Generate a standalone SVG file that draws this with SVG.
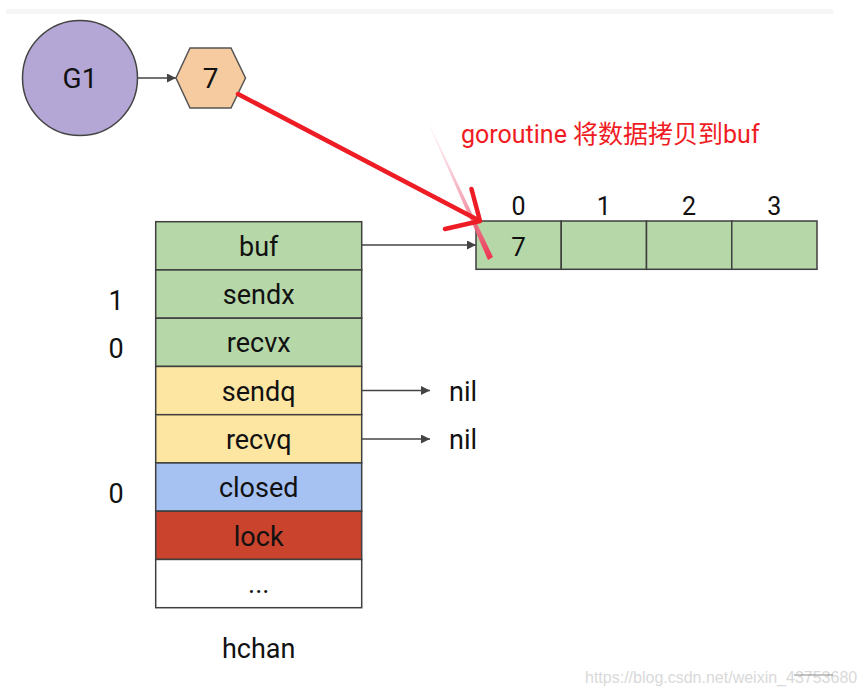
<svg xmlns="http://www.w3.org/2000/svg" width="866" height="694" viewBox="0 0 866 694">
<defs>
<style>
.t{font-family:Roboto,"Liberation Sans",Arial,sans-serif;fill:#111;}
.c{text-anchor:middle;}
.cell{stroke:#3f3f3f;stroke-width:1.5;}
.g{fill:#b6d7a8;}
.y{fill:#fde6a2;}
.b{fill:#a5c2f2;}
.r{fill:#c9432d;}
.w{fill:#fff;}
.conn{stroke:#444;stroke-width:1.3;fill:none;}
.f{font-size:27px;}
</style>
<marker id="ah" viewBox="0 0 10 10" refX="10" refY="5" markerWidth="11" markerHeight="9" markerUnits="userSpaceOnUse" orient="auto">
<path d="M0,0 L10,5 L0,10 z" fill="#444"/>
</marker>
<linearGradient id="pink" x1="428" y1="123" x2="490" y2="259" gradientUnits="userSpaceOnUse">
<stop offset="0" stop-color="#f7b7c4" stop-opacity="0.1"/>
<stop offset="0.6" stop-color="#f08aa0" stop-opacity="0.8"/>
<stop offset="1" stop-color="#ee3350"/>
</linearGradient>
</defs>
<rect width="866" height="694" fill="#fff"/>
<rect x="6" y="9" width="827" height="5" fill="#f6f6f6"/>

<g id="G1">
<circle cx="80" cy="78" r="57.5" fill="#b4a7d6" stroke="#444" stroke-width="1.5"/>
<text class="t c" x="80" y="88" font-size="28">G1</text>
</g>
<g id="value7">
<polygon points="176,78 190,48 231,48 245.5,78 231,108 190,108" fill="#f6cba0" stroke="#555" stroke-width="1.5"/>
<text class="t c" x="210.5" y="88" font-size="28">7</text>
</g>

<g id="hchan">
<rect class="cell g" x="155.7" y="221.7" width="206" height="48.25"/>
<text class="t c f" x="258.7" y="256">buf</text>
<rect class="cell g" x="155.7" y="269.95" width="206" height="48.25"/>
<text class="t c f" x="258.7" y="304">sendx</text>
<rect class="cell g" x="155.7" y="318.2" width="206" height="48.25"/>
<text class="t c f" x="258.7" y="352">recvx</text>
<rect class="cell y" x="155.7" y="366.45" width="206" height="48.25"/>
<text class="t c f" x="258.7" y="400.5">sendq</text>
<rect class="cell y" x="155.7" y="414.7" width="206" height="48.25"/>
<text class="t c f" x="258.7" y="449">recvq</text>
<rect class="cell b" x="155.7" y="462.95" width="206" height="48.25"/>
<text class="t c f" x="258.7" y="497">closed</text>
<rect class="cell r" x="155.7" y="511.2" width="206" height="48.25"/>
<text class="t c f" x="258.7" y="545.5">lock</text>
<rect class="cell w" x="155.7" y="559.45" width="206" height="48.25"/>
<text class="t c f" x="258.7" y="593">...</text>
<text class="t c f" x="258.7" y="657.5">hchan</text>
<text class="t c f" x="116" y="310">1</text>
<text class="t c f" x="116" y="358">0</text>
<text class="t c f" x="116" y="503">0</text>
</g>

<g id="buffer">
<rect class="cell g" x="476" y="221" width="85.25" height="48.3"/>
<rect class="cell g" x="561.25" y="221" width="85.25" height="48.3"/>
<rect class="cell g" x="646.5" y="221" width="85.25" height="48.3"/>
<rect class="cell g" x="731.75" y="221" width="85.25" height="48.3"/>
<text class="t c" x="518.6" y="256" font-size="26">7</text>
<text class="t c" x="518.6" y="215" font-size="25">0</text>
<text class="t c" x="603.9" y="215" font-size="25">1</text>
<text class="t c" x="689.1" y="215" font-size="25">2</text>
<text class="t c" x="774.4" y="215" font-size="25">3</text>
</g>

<g id="nil-labels">
<text class="t f" x="449" y="400.5">nil</text>
<text class="t f" x="449" y="449">nil</text>
</g>

<g id="connectors">
<line class="conn" x1="138" y1="78" x2="176" y2="78" marker-end="url(#ah)"/>
<line class="conn" x1="361.7" y1="245" x2="476" y2="245" marker-end="url(#ah)"/>
<line class="conn" x1="361.7" y1="390.5" x2="430" y2="390.5" marker-end="url(#ah)"/>
<line class="conn" x1="361.7" y1="439" x2="430" y2="439" marker-end="url(#ah)"/>
</g>

<g id="annotation">
<polygon points="428,123 429,123.5 493,257 488,260" fill="url(#pink)"/>
<path d="M238,94 L480,221 M471.5,189 L480,221 L445,229" fill="none" stroke="#ee1c25" stroke-width="4.5" stroke-linecap="round" stroke-linejoin="round"/>
<text x="461" y="143" font-size="25" fill="#f01c24" font-family="Roboto,'Liberation Sans','Noto Sans CJK SC',sans-serif">goroutine 将数据拷贝到buf</text>
</g>

<g id="watermark">
<text x="585" y="683" font-size="16" fill="#d9d9d9" font-family="'Liberation Sans',Arial,sans-serif">https://blog.csdn.net/weixin_43753680</text>
<line x1="794" y1="675" x2="833" y2="675" stroke="#888" stroke-width="1"/>
</g>
</svg>
